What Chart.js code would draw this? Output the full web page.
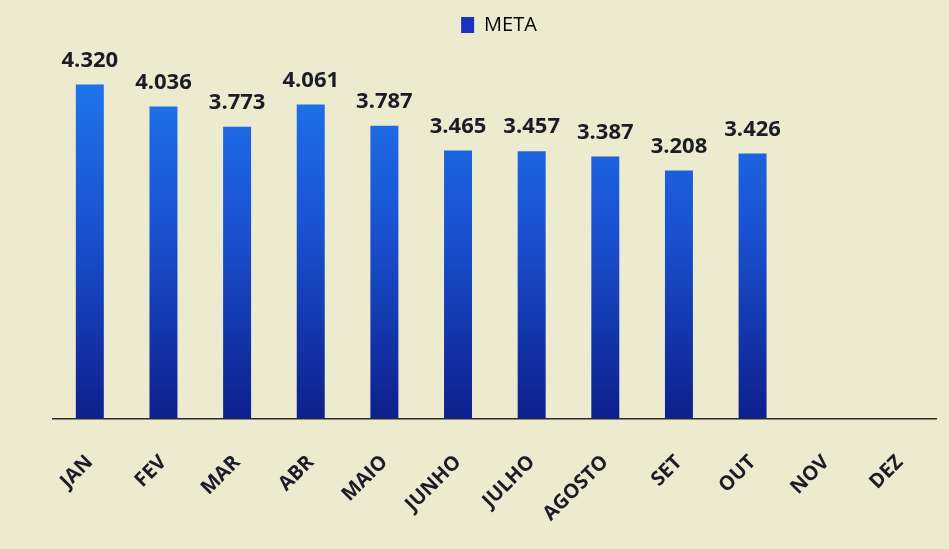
<!DOCTYPE html>
<html>
<head>
<meta charset="utf-8">
<script src="https://cdn.jsdelivr.net/npm/chart.js@4.4.1/dist/chart.umd.min.js"></script>
<style>
  html, body { margin: 0; padding: 0; background: #ecebd0; }
  #wrap { width: 949px; height: 549px; }
</style>
</head>
<body>
<div id="wrap"><canvas id="meta-chart" width="949" height="549"></canvas></div>
<script>
    "use strict";

    // Dados do gráfico
    var meses = ["JAN", "FEV", "MAR", "ABR", "MAIO", "JUNHO", "JULHO", "AGOSTO", "SET", "OUT", "NOV", "DEZ"];
    var meta = [4320, 4036, 3773, 4061, 3787, 3465, 3457, 3387, 3208, 3426, null, null];
    var serieNome = "META";

    function formata(v) {
        var s = String(Math.round(v));
        return s.replace(/\B(?=(\d{3})+(?!\d))/g, ".");
    }

    // fundo creme
    var fundo = {
        id: "fundo",
        beforeDraw: function (chart) {
            var c = chart.ctx;
            c.save();
            c.fillStyle = "#ecebd0";
            c.fillRect(0, 0, chart.width, chart.height);
            c.restore();
        }
    };

    // rótulos acima das barras
    var rotulos = {
        id: "rotulos",
        afterDatasetsDraw: function (chart) {
            var c = chart.ctx;
            var meta0 = chart.getDatasetMeta(0);
            c.save();
            c.font = "bold 22px 'Open Sans'";
            c.fillStyle = "#1c1c26";
            c.textAlign = "center";
            c.textBaseline = "bottom";
            meta0.data.forEach(function (bar, i) {
                var v = chart.data.datasets[0].data[i];
                if (v == null) return;
                c.fillText(formata(v), bar.x, bar.y - 13);
            });
            c.restore();
        }
    };

    function gradiente(context) {
        var chart = context.chart;
        var area = chart.chartArea;
        if (!area) return "#1a4fd0";
        var g = chart.ctx.createLinearGradient(0, area.top + 40, 0, area.bottom);
        g.addColorStop(0, "#1e74ea");
        g.addColorStop(0.45, "#1a50cf");
        g.addColorStop(1, "#0e1f8c");
        return g;
    }

    var ctx = document.getElementById("meta-chart").getContext("2d");
    var grafico = new Chart(ctx, {
        type: "bar",
        data: {
            labels: meses,
            datasets: [{
                label: serieNome,
                data: meta,
                backgroundColor: gradiente,
                borderWidth: 0,
                barPercentage: 0.38,
                categoryPercentage: 1
            }]
        },
        options: {
            responsive: false,
            animation: false,
            layout: {
                padding: { left: 53, right: 4, top: 11, bottom: 0 }
            },
            plugins: {
                legend: {
                    display: true,
                    labels: {
                        color: "#1c1c26",
                        font: { family: "'Open Sans'", size: 20 },
                        boxWidth: 13,
                        boxHeight: 16,
                        padding: 4,
                        generateLabels: function () {
                            return [{
                                text: serieNome,
                                fillStyle: "#1733c0",
                                strokeStyle: "#1733c0",
                                lineWidth: 0,
                                datasetIndex: 0
                            }];
                        }
                    }
                },
                tooltip: { enabled: false }
            },
            scales: {
                x: {
                    grid: { display: false, drawTicks: false },
                    border: { display: true, color: "#2b2b2b", width: 1.5 },
                    afterFit: function (scale) {
                        scale.height -= 9;
                    },
                    ticks: {
                        color: "#1c1c26",
                        font: { family: "'Open Sans'", size: 20, weight: "bold" },
                        minRotation: 45,
                        maxRotation: 45,
                        padding: 32,
                        autoSkip: false
                    }
                },
                y: {
                    display: false,
                    min: 0,
                    max: 4830
                }
            }
        },
        plugins: [fundo, rotulos]
    });
</script>
</body>
</html>
